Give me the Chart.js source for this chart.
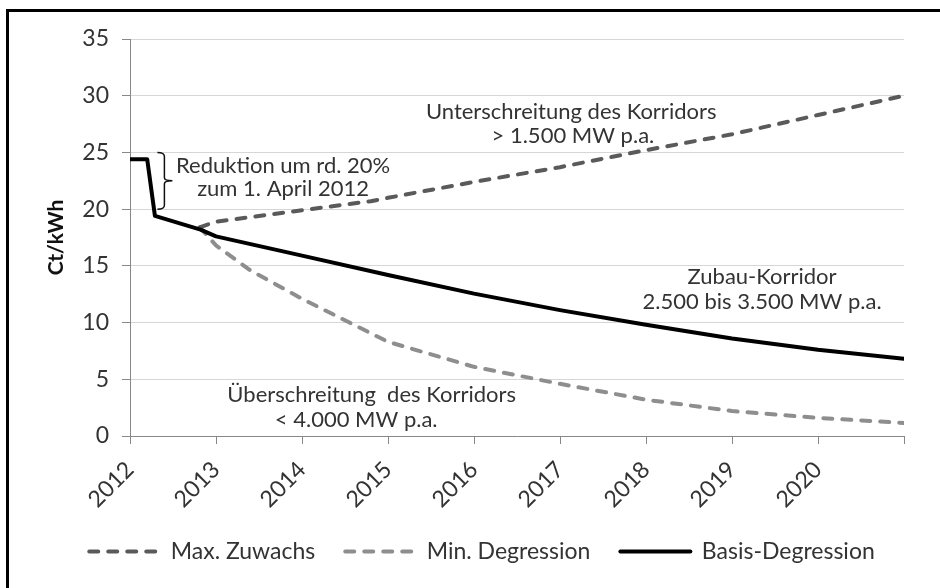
<!DOCTYPE html>
<html>
<head>
<meta charset="utf-8">
<script src="https://cdn.jsdelivr.net/npm/chart.js@4/dist/chart.umd.min.js"></script>
<style>
  html, body { margin: 0; padding: 0; background: #fff; overflow: hidden; }
  #wrap { position: relative; width: 940px; height: 588px; }
  #frame { position: absolute; left: 6px; top: 9px; width: 2000px; height: 2000px; border: 3px solid #000; pointer-events: none; }
</style>
</head>
<body>
<div id="wrap">
  <canvas id="c" width="940" height="588"></canvas>
  <div id="frame"></div>
</div>
<script>
// ---- Data ----
const seriesLabels = ['Max. Zuwachs', 'Min. Degression', 'Basis-Degression'];
const yearTicks = [2012, 2013, 2014, 2015, 2016, 2017, 2018, 2019, 2020];

const maxZuwachsX = [2012.81, 2013, 2013.4, 2014, 2014.8, 2015, 2016, 2017, 2018, 2019, 2020, 2021];
const maxZuwachsY = [18.4, 18.9, 19.3, 19.9, 20.7, 21.0, 22.4, 23.7, 25.2, 26.6, 28.3, 30.0];

const minDegressionX = [2012.81, 2013, 2013.4, 2014, 2015, 2016, 2017, 2018, 2019, 2020, 2021];
const minDegressionY = [18.4, 16.8, 14.6, 12.1, 8.3, 6.1, 4.6, 3.2, 2.2, 1.6, 1.15];

const basisX = [2012, 2012.2, 2012.29, 2012.82, 2013, 2014, 2015, 2016, 2017, 2018, 2019, 2020, 2021];
const basisY = [24.4, 24.4, 19.4, 18.2, 17.6, 15.9, 14.2, 12.55, 11.1, 9.8, 8.6, 7.6, 6.8];

const yTitle = 'Ct/kWh';
const notes = [
  { lines: ['Unterschreitung des Korridors', '> 1.500 MW p.a.'] },
  { lines: ['Reduktion um rd. 20%', 'zum 1. April 2012'] },
  { lines: ['Zubau-Korridor', '2.500 bis 3.500 MW p.a.'] },
  { lines: ['Überschreitung  des Korridors', '< 4.000 MW p.a.'] }
];

// ---- build ----
const pts = (xs, ys) => xs.map((x, i) => ({ x: x, y: ys[i] }));
const FONT = 'Lato';
const TXT = '#333333';
const FS = 23;
const NOTE_FS = 22;

const datasets = [
  { label: seriesLabels[0], data: pts(maxZuwachsX, maxZuwachsY), borderColor: '#5a5a5a', borderWidth: 4, borderDash: [9, 10], borderCapStyle: 'round', order: 1 },
  { label: seriesLabels[1], data: pts(minDegressionX, minDegressionY), borderColor: '#8e8e8e', borderWidth: 4, borderDash: [9, 10], borderCapStyle: 'round', order: 2 },
  { label: seriesLabels[2], data: pts(basisX, basisY), borderColor: '#000000', borderWidth: 4, borderDash: [], borderCapStyle: 'round', order: 0 }
];
datasets.forEach(d => { d.pointRadius = 0; d.fill = false; d.tension = 0; d.borderJoinStyle = 'round'; });

const notesPlugin = {
  id: 'notes',
  afterDatasetsDraw(chart) {
    const ctx = chart.ctx, x = chart.scales.x, y = chart.scales.y;
    // positions (data coordinates) for annotation texts
    const pos = [
      [[2017.13, 28.6], [2017.15, 26.5]],
      [[2013.78, 23.8], [2013.78, 21.8]],
      [[2019.35, 14.0], [2019.35, 11.8]],
      [[2014.81, 3.6], [2014.63, 1.4]]
    ];
    ctx.save();
    ctx.fillStyle = TXT;
    ctx.font = NOTE_FS + 'px ' + FONT;
    ctx.textAlign = 'center';
    ctx.textBaseline = 'middle';
    notes.forEach((n, i) => {
      n.lines.forEach((t, j) => {
        ctx.fillText(t, x.getPixelForValue(pos[i][j][0]), y.getPixelForValue(pos[i][j][1]));
      });
    });
    // curly brace spanning the April 2012 reduction (25 -> 20)
    const bx = x.getPixelForValue(2012.4);
    const top = y.getPixelForValue(25), bot = y.getPixelForValue(20), mid = (top + bot) / 2;
    ctx.strokeStyle = '#111';
    ctx.lineWidth = 1.5;
    ctx.beginPath();
    ctx.moveTo(bx - 7, top);
    ctx.quadraticCurveTo(bx, top, bx, top + 4);
    ctx.lineTo(bx, mid - 3);
    ctx.quadraticCurveTo(bx, mid, bx + 8, mid);
    ctx.quadraticCurveTo(bx, mid, bx, mid + 3);
    ctx.lineTo(bx, bot - 4);
    ctx.quadraticCurveTo(bx, bot, bx - 7, bot);
    ctx.stroke();
    ctx.restore();
  }
};

const legendShift = {
  id: 'legendShift',
  beforeInit(chart) {
    const lg = chart.legend;
    if (lg) {
      const fit = lg.fit.bind(lg);
      lg.fit = function () { fit(); this.height = 78; };
    }
  },
  afterLayout(chart) {
    const lg = chart.legend;
    if (lg) { lg.left += 10; lg.right += 10; }
  }
};

new Chart(document.getElementById('c'), {
  type: 'line',
  data: { datasets: datasets },
  plugins: [notesPlugin, legendShift],
  options: {
    responsive: false,
    animation: false,
    devicePixelRatio: 1,
    layout: { padding: { left: 40, right: 36, top: 39, bottom: 0 } },
    plugins: {
      tooltip: { enabled: false },
      legend: {
        position: 'bottom',
        labels: {
          usePointStyle: true,
          pointStyle: 'line',
          pointStyleWidth: 70,
          padding: 30,
          color: TXT,
          font: { family: FONT, size: FS },
          generateLabels(chart) {
            return chart.data.datasets.map((d, i) => ({
              text: d.label,
              strokeStyle: d.borderColor,
              fillStyle: d.borderColor,
              lineWidth: d.borderWidth,
              lineDash: d.borderDash,
              lineCap: 'round',
              pointStyle: 'line',
              fontColor: TXT,
              hidden: false,
              datasetIndex: i
            }));
          }
        }
      }
    },
    scales: {
      x: {
        type: 'linear',
        min: 2012,
        max: 2021,
        afterBuildTicks(scale) {
          scale.ticks = yearTicks.concat([2021]).map(v => ({ value: v }));
        },
        afterFit(scale) { scale.height = 74; },
        ticks: {
          autoSkip: false,
          minRotation: 45,
          maxRotation: 45,
          padding: 12,
          color: TXT,
          font: { family: FONT, size: FS },
          callback: (v) => yearTicks.includes(v) ? String(v) : ''
        },
        grid: { drawOnChartArea: false, drawTicks: true, tickLength: 8, tickColor: '#888888' },
        border: { color: '#888888', width: 1 }
      },
      y: {
        min: 0,
        max: 35,
        afterFit(scale) { scale.width = 90; },
        ticks: {
          stepSize: 5,
          padding: 13,
          color: TXT,
          font: { family: FONT, size: FS }
        },
        grid: { color: '#d6d6d6', tickLength: 8, tickColor: '#888888' },
        border: { color: '#888888', width: 1 },
        title: {
          display: true,
          text: yTitle,
          color: '#111',
          padding: { top: 4, bottom: 0 },
          font: { family: FONT, size: 21, weight: 'bold' }
        }
      }
    }
  }
});
</script>
</body>
</html>
